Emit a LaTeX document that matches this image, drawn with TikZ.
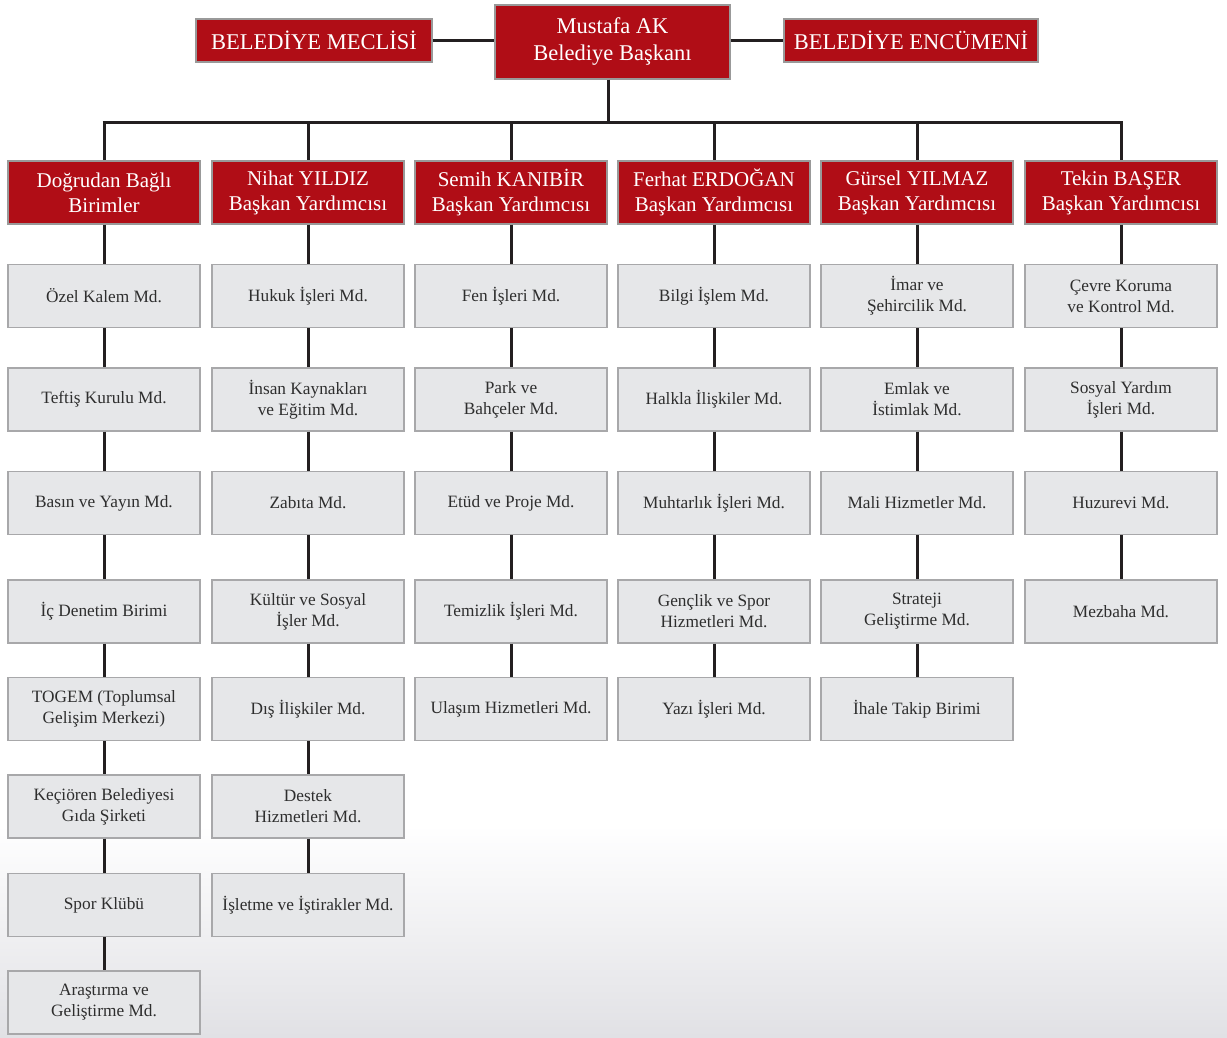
\documentclass[tikz,border=0pt]{standalone}
\usepackage{fontspec}
\setmainfont{Liberation Serif}
\definecolor{kred}{HTML}{B00D16}
\definecolor{kgray}{HTML}{E6E7E9}
\definecolor{kgborder}{HTML}{A8A8AA}
\definecolor{ktext}{HTML}{2E2E2E}
\definecolor{kline}{HTML}{231F20}
\definecolor{kbottom}{HTML}{E1E1E5}
\tikzset{
  redbox/.style={fill=kred, draw=gray!80, line width=1.2pt, text=white,
    font=\fontsize{21}{25}\selectfont, align=center, inner sep=0pt,
    minimum width=192pt, minimum height=63pt},
  topbox/.style={redbox, font=\fontsize{22.5}{27}\selectfont},
  graybox/.style={fill=kgray, draw=kgborder, line width=1.4pt, text=ktext,
    font=\fontsize{17.3}{21}\selectfont, align=center, inner sep=0pt,
    minimum width=192pt, minimum height=63pt},
  conn/.style={draw=kline, line width=3pt}
}
\begin{document}
\begin{tikzpicture}[x=1pt,y=-1pt]
\useasboundingbox (0,0) rectangle (1227,1037);
\fill[white] (0,0) rectangle (1227,826);
\shade[top color=white, bottom color=kbottom] (0,825) rectangle (1227,1037);

% connectors at top (drawn first, boxes cover the ends)
\coordinate (bus) at (608,122);

% top row
\node[topbox, minimum width=235pt, minimum height=74pt] (pres) at (612.5,42) {Mustafa AK\\Belediye Başkanı};
\node[topbox, minimum width=236pt, minimum height=43pt] (mec) at (314,40.5) {BELEDİYE MECLİSİ};
\node[topbox, minimum width=254pt, minimum height=43pt] (enc) at (911,40.5) {BELEDİYE ENCÜMENİ};

% headers
\node[redbox] (hA) at (104,192.5) {Doğrudan Bağlı\\Birimler};
\node[redbox] (hB) at (308,192.5) {Nihat YILDIZ\\Başkan Yardımcısı};
\node[redbox] (hC) at (511,192.5) {Semih KANIBİR\\Başkan Yardımcısı};
\node[redbox] (hD) at (714,192.5) {Ferhat ERDOĞAN\\Başkan Yardımcısı};
\node[redbox] (hE) at (917,192.5) {Gürsel YILMAZ\\Başkan Yardımcısı};
\node[redbox] (hF) at (1121,192.5) {Tekin BAŞER\\Başkan Yardımcısı};

% column A
\node[graybox] (A1) at (104,296) {Özel Kalem Md.};
\node[graybox] (A2) at (104,399.5) {Teftiş Kurulu Md.};
\node[graybox] (A3) at (104,503) {Basın ve Yayın Md.};
\node[graybox] (A4) at (104,611.5) {İç Denetim Birimi};
\node[graybox] (A5) at (104,709) {TOGEM (Toplumsal\\Gelişim Merkezi)};
\node[graybox] (A6) at (104,806.5) {Keçiören Belediyesi\\Gıda Şirketi};
\node[graybox] (A7) at (104,905) {Spor Klübü};
\node[graybox] (A8) at (104,1002.5) {Araştırma ve\\Geliştirme Md.};

% column B
\node[graybox] (B1) at (308,296) {Hukuk İşleri Md.};
\node[graybox] (B2) at (308,399.5) {İnsan Kaynakları\\ve Eğitim Md.};
\node[graybox] (B3) at (308,503) {Zabıta Md.};
\node[graybox] (B4) at (308,611.5) {Kültür ve Sosyal\\İşler Md.};
\node[graybox] (B5) at (308,709) {Dış İlişkiler Md.};
\node[graybox] (B6) at (308,806.5) {Destek\\Hizmetleri Md.};
\node[graybox] (B7) at (308,905) {İşletme ve İştirakler Md.};

% column C
\node[graybox] (C1) at (511,296) {Fen İşleri Md.};
\node[graybox] (C2) at (511,399.5) {Park ve\\Bahçeler Md.};
\node[graybox] (C3) at (511,503) {Etüd ve Proje Md.};
\node[graybox] (C4) at (511,611.5) {Temizlik İşleri Md.};
\node[graybox] (C5) at (511,709) {Ulaşım Hizmetleri Md.};

% column D
\node[graybox] (D1) at (714,296) {Bilgi İşlem Md.};
\node[graybox] (D2) at (714,399.5) {Halkla İlişkiler Md.};
\node[graybox] (D3) at (714,503) {Muhtarlık İşleri Md.};
\node[graybox] (D4) at (714,611.5) {Gençlik ve Spor\\Hizmetleri Md.};
\node[graybox] (D5) at (714,709) {Yazı İşleri Md.};

% column E
\node[graybox] (E1) at (917,296) {İmar ve\\Şehircilik Md.};
\node[graybox] (E2) at (917,399.5) {Emlak ve\\İstimlak Md.};
\node[graybox] (E3) at (917,503) {Mali Hizmetler Md.};
\node[graybox] (E4) at (917,611.5) {Strateji\\Geliştirme Md.};
\node[graybox] (E5) at (917,709) {İhale Takip Birimi};

% column F
\node[graybox] (F1) at (1121,296) {Çevre Koruma\\ve Kontrol Md.};
\node[graybox] (F2) at (1121,399.5) {Sosyal Yardım\\İşleri Md.};
\node[graybox] (F3) at (1121,503) {Huzurevi Md.};
\node[graybox] (F4) at (1121,611.5) {Mezbaha Md.};

% connectors at top
\draw[conn] (mec.east) -- (mec.east -| pres.west);
\draw[conn] (enc.west -| pres.east) -- (enc.west);
\draw[conn] ([xshift=-4.5pt]pres.south) -- (bus);
\draw[conn] ([xshift=-1.5pt]hA.north |- bus) -- ([xshift=1.5pt]hF.north |- bus);
\foreach \h in {hA,hB,hC,hD,hE,hF} {
  \draw[conn] (\h.north |- bus) -- (\h.north);
}

% column connectors
\foreach \c/\n in {A/8,B/7,C/5,D/5,E/5,F/4} {
  \draw[conn] (h\c.south) -- (\c1.north);
  \foreach \i [evaluate=\i as \j using int(\i+1)] in {1,...,7} {
    \ifnum\i<\n
      \draw[conn] (\c\i.south) -- (\c\j.north);
    \fi
  }
}
\end{tikzpicture}
\end{document}
